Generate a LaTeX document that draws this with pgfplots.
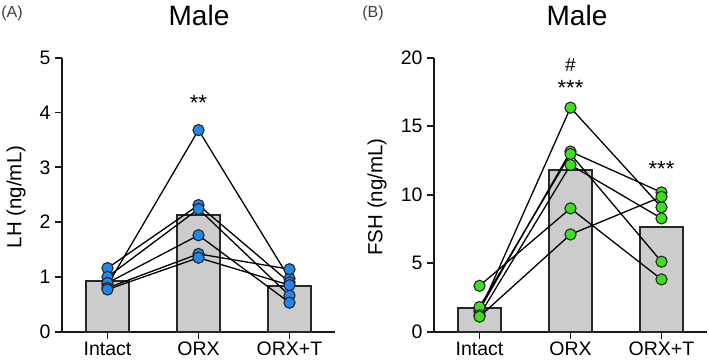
\documentclass[border=0pt]{standalone}
\usepackage{fontspec}
\setmainfont{Liberation Sans}
\usepackage{pgfplots}
\usepackage{pgfplotstable}
\pgfplotsset{compat=1.18}

\definecolor{barfill}{RGB}{204,204,204}
\definecolor{barline}{RGB}{40,40,40}
\definecolor{axisc}{RGB}{25,25,25}
\definecolor{lhblue}{RGB}{30,136,240}
\definecolor{fshgreen}{RGB}{60,225,30}

% LH per animal (columns s1..s6), groups at x = 0,1,2
\pgfplotstableread{
x  s1   s2   s3   s4   s5   s6
0  0.85 1.16 1.00 0.89 0.80 0.77
1  3.68 2.31 2.24 1.76 1.42 1.35
2  0.97 0.90 0.66 0.53 1.14 0.85
}\lhdata
% FSH per animal
\pgfplotstableread{
x  s1    s2    s3    s4    s5   s6
0  1.45  1.60  1.80  1.20  3.35 1.10
1  16.35 13.15 12.97 12.17 9.00 7.10
2  9.08  10.17 5.11  8.27  3.82 9.85
}\fshdata

\tikzset{sig/.style={font=\fontsize{22}{24}\selectfont}}

\pgfplotsset{
  panel/.style={
    scale only axis, anchor=south west,
    width=273pt, height=274pt,
    axis lines*=left,
    xmin=-0.5, xmax=2.5, ymin=0,
    xtick={0,1,2}, xticklabels={Intact,ORX,ORX+T},
    tick align=outside, major tick length=7pt,
    tick style={line width=1.8pt, color=axisc},
    axis line style={line width=1.8pt, color=axisc},
    tick label style={font=\fontsize{19.5}{21}\selectfont, text=black},
    yticklabel style={xshift=-1pt},
    /pgf/number format/assume math mode=true,
    clip=false,
  },
  grpbar/.style={ybar, bar width=0.48, fill=barfill, draw=barline, line width=1.8pt},
  pairline/.style={black, line width=1.3pt, mark=none},
  dots/.style={only marks, mark=*, mark size=5.6pt,
    mark options={fill=#1, draw=black!85, line width=1.1pt}},
}

\begin{document}
\begin{tikzpicture}[x=1pt,y=1pt]
\useasboundingbox (0,0) rectangle (709,362);

% ---------- (A) LH ----------
\begin{axis}[panel, at={(62pt,30.3pt)}, ymax=5, ytick={0,1,2,3,4,5}]
  \addplot[grpbar] coordinates {(0,0.92) (1,2.13) (2,0.84)};
  \pgfplotsinvokeforeach{1,...,6}{
    \addplot[pairline] table[x=x, y=s#1] {\lhdata};
  }
  \pgfplotsinvokeforeach{1,...,6}{
    \addplot[dots=lhblue] table[x=x, y=s#1] {\lhdata};
  }
  \node[sig] at (axis cs:1,4.18) {**};
\end{axis}

% ---------- (B) FSH ----------
\begin{axis}[panel, at={(434pt,30.3pt)}, ymax=20, ytick={0,5,10,15,20}]
  \addplot[grpbar] coordinates {(0,1.75) (1,11.8) (2,7.66)};
  \pgfplotsinvokeforeach{1,...,6}{
    \addplot[pairline] table[x=x, y=s#1] {\fshdata};
  }
  \pgfplotsinvokeforeach{1,...,6}{
    \addplot[dots=fshgreen] table[x=x, y=s#1] {\fshdata};
  }
  \node[font=\fontsize{19}{21}\selectfont] at (axis cs:1,19.5) {\#};
  \node[sig] at (axis cs:1,17.8) {***};
  \node[sig] at (axis cs:2,11.9) {***};
\end{axis}

% titles, axis labels, panel letters
\node[font=\fontsize{28}{30}\selectfont] at (199,347) {Male};
\node[font=\fontsize{28}{30}\selectfont] at (577,347) {Male};
\node[font=\fontsize{20.5}{22}\selectfont, rotate=90] at (16,165) {LH (ng/mL)};
\node[font=\fontsize{20.5}{22}\selectfont, rotate=90] at (377,165) {FSH (ng/mL)};
\node[font=\fontsize{16}{18}\selectfont, text=black!75] at (12,349) {(A)};
\node[font=\fontsize{16}{18}\selectfont, text=black!75] at (373,349) {(B)};
\end{tikzpicture}
\end{document}
